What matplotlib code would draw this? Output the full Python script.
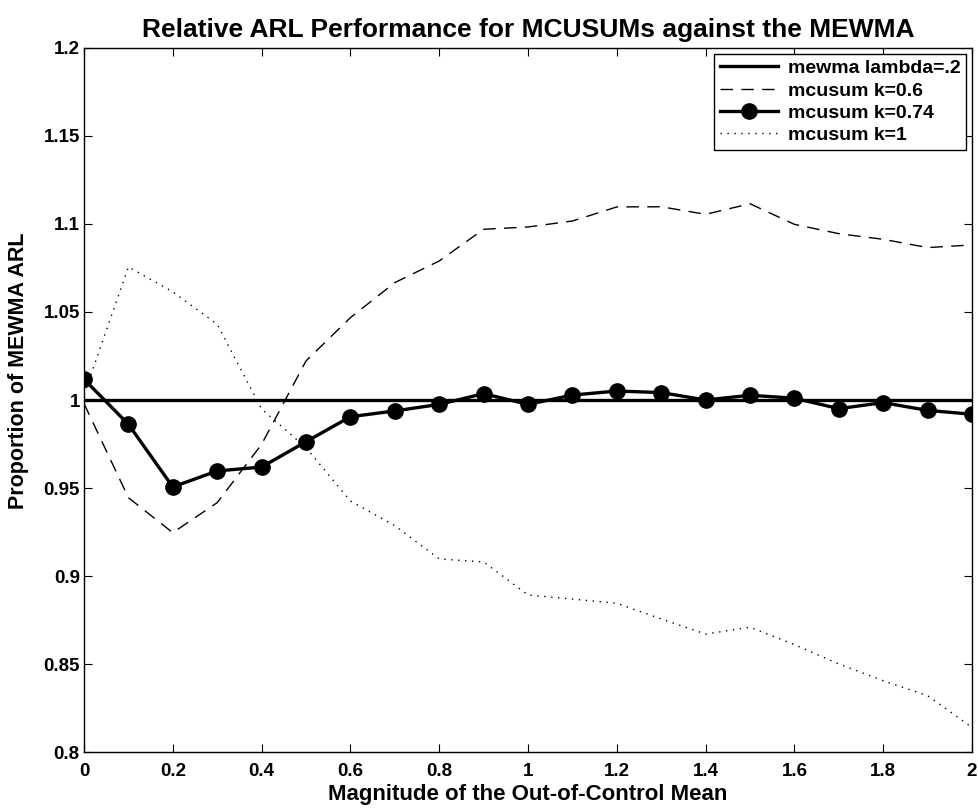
import numpy as np
import matplotlib.pyplot as plt
from matplotlib.ticker import FuncFormatter

plt.rcParams['font.family'] = ['Liberation Sans', 'DejaVu Sans']
plt.rcParams['font.weight'] = 'bold'

# shift magnitudes
shift = [0.0, 0.1, 0.2, 0.3, 0.4, 0.5, 0.6, 0.7, 0.8, 0.9, 1.0,
         1.1, 1.2, 1.3, 1.4, 1.5, 1.6, 1.7, 1.8, 1.9, 2.0]

mewma = [1.0] * 21
k06 = [0.998, 0.9445, 0.9246, 0.9417, 0.9748, 1.0222, 1.0468, 1.0667, 1.0790, 1.0970, 1.0983,
       1.1017, 1.1097, 1.1098, 1.1055, 1.1115, 1.0998, 1.0945, 1.0913, 1.0866, 1.0881]
k074 = [1.0118, 0.9862, 0.9506, 0.9597, 0.9619, 0.9763, 0.9905, 0.9938, 0.9975, 1.0036, 0.9975,
        1.0028, 1.0051, 1.0042, 1.0000, 1.0027, 1.0010, 0.9951, 0.9985, 0.9941, 0.9919]
k1 = [1.003, 1.0756, 1.0615, 1.043, 0.9949, 0.9729, 0.9426, 0.9286, 0.9097, 0.9080, 0.8892,
      0.8869, 0.8845, 0.8756, 0.8670, 0.8709, 0.8610, 0.8500, 0.8405, 0.8320, 0.8140]

fig = plt.figure(figsize=(9.79, 8.08), dpi=100)
ax = fig.add_axes([0.0858, 0.0693, 0.9071, 0.8713])

ax.plot(shift, mewma, color='black', linewidth=2.4, label='mewma lambda=.2')
ax.plot(shift, k06, color='black', linewidth=1.0, linestyle=(0, (9, 6)), label='mcusum k=0.6')
ax.plot(shift, k074, color='black', linewidth=2.4, marker='o', markersize=11, label='mcusum k=0.74')
ax.plot(shift, k1, color='black', linewidth=1.0, linestyle=(0, (1, 4)), label='mcusum k=1')

ax.set_xlim(0, 2)
ax.set_ylim(0.8, 1.2)
ax.set_xticks(np.arange(0, 2.01, 0.2))
ax.set_yticks(np.arange(0.8, 1.201, 0.05))
ax.xaxis.set_major_formatter(FuncFormatter(lambda v, p: f"{v:g}" if abs(v) > 1e-9 else "0"))
ax.yaxis.set_major_formatter(FuncFormatter(lambda v, p: f"{round(v, 2):g}"))
ax.tick_params(direction='in', top=True, right=True, length=6, labelsize=13.5, width=0.8)
ax.tick_params(axis='x', pad=8)
ax.tick_params(axis='y', pad=3)
for s in ax.spines.values():
    s.set_linewidth(1.0)

ax.set_title("Relative ARL Performance for MCUSUMs against the MEWMA", fontsize=19, fontweight='bold', pad=8)
ax.set_xlabel("Magnitude of the Out-of-Control Mean", fontsize=16, fontweight='bold', labelpad=3)
ax.set_ylabel("Proportion of MEWMA ARL", fontsize=15.5, fontweight='bold')
ax.yaxis.set_label_coords(-0.062, 0.541)

leg = ax.legend(loc='upper right', fontsize=14, frameon=True, fancybox=False, framealpha=1,
                edgecolor='black', handlelength=3.0, borderpad=0.3, labelspacing=0.24,
                borderaxespad=0.3, handletextpad=0.5)
leg.get_frame().set_linewidth(1.0)

fig.savefig("out.png", dpi=100)
